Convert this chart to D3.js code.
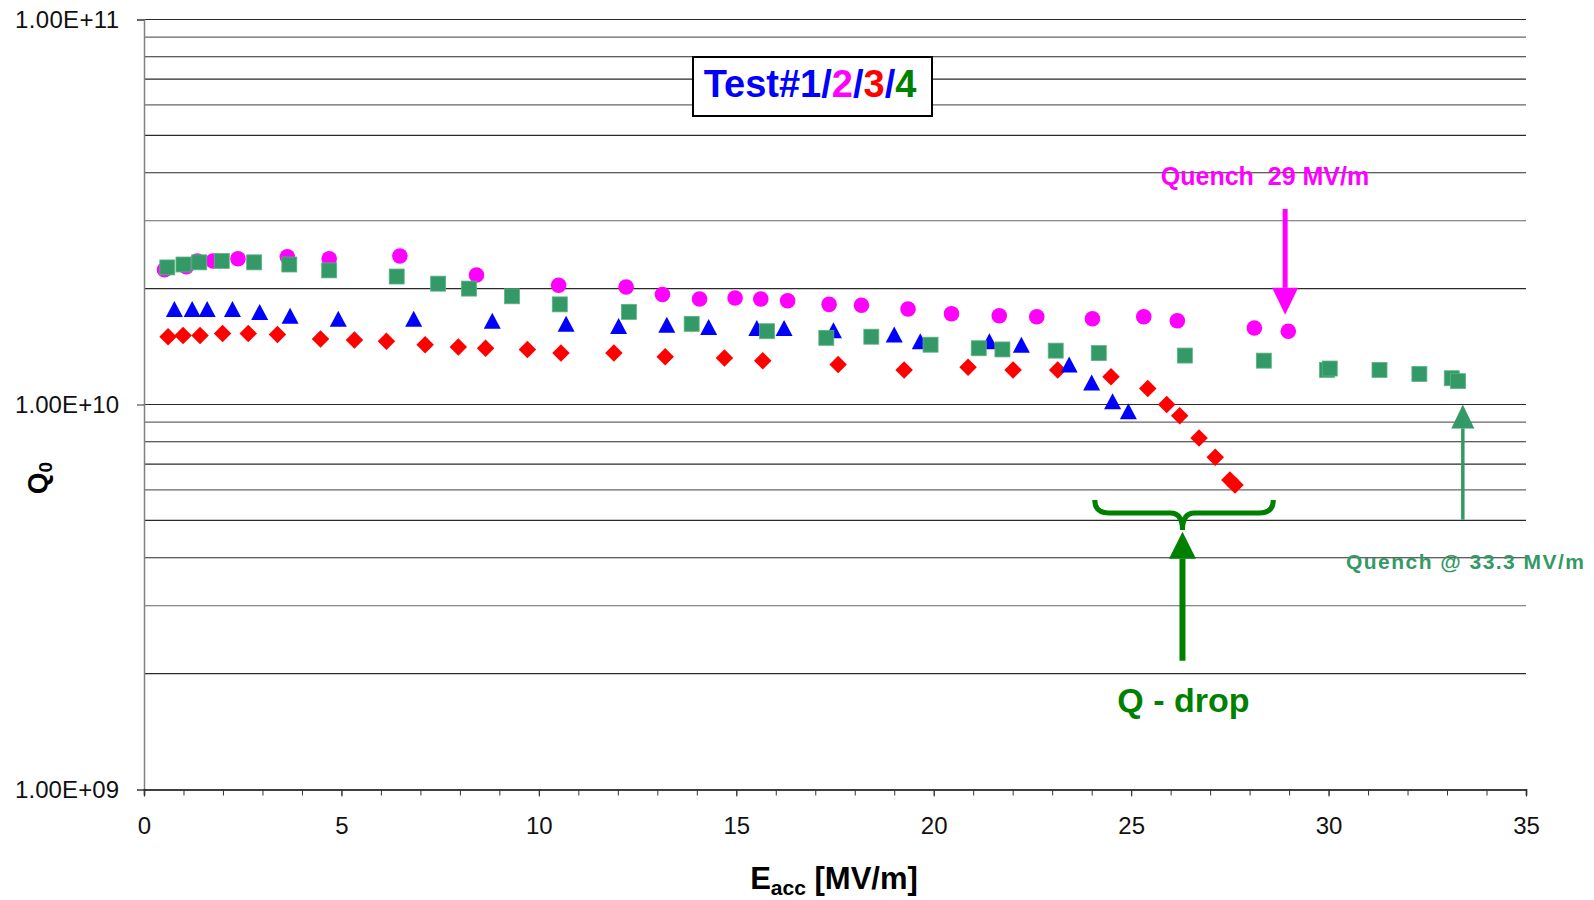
<!DOCTYPE html>
<html>
<head>
<meta charset="utf-8">
<script src="https://cdn.jsdelivr.net/npm/d3@7"></script>
<style>
  body { margin: 0; background: #fff; }
  svg { font-family: 'Liberation Sans', Arial, sans-serif; }
</style>
</head>
<body>
<svg width="1594" height="900"></svg>
<script>
// [Eacc MV/m, Q0]
const test1 = [[0.77,1.77e10],[1.22,1.77e10],[1.60,1.77e10],[2.24,1.77e10],[2.93,1.74e10],[3.70,1.70e10],
  [4.92,1.67e10],[6.83,1.67e10],[8.82,1.65e10],[10.69,1.62e10],[12.02,1.60e10],[13.24,1.61e10],[14.30,1.59e10],
  [15.52,1.58e10],[16.21,1.58e10],[17.46,1.56e10],[19.00,1.52e10],[19.66,1.46e10],[21.41,1.46e10],[22.22,1.43e10],
  [23.43,1.27e10],[24.00,1.14e10],[24.53,1.02e10],[24.93,9.6e9]];
const test2 = [[0.52,2.24e10],[1.07,2.28e10],[1.35,2.36e10],[1.75,2.36e10],[2.38,2.39e10],[3.63,2.42e10],
  [4.69,2.39e10],[6.48,2.43e10],[8.42,2.17e10],[10.50,2.04e10],[12.21,2.02e10],[13.13,1.93e10],[14.07,1.88e10],
  [14.97,1.89e10],[15.62,1.88e10],[16.30,1.86e10],[17.35,1.82e10],[18.17,1.81e10],[19.35,1.77e10],[20.45,1.72e10],
  [21.66,1.70e10],[22.61,1.69e10],[24.02,1.67e10],[25.32,1.69e10],[26.17,1.65e10],[28.12,1.58e10],[28.98,1.55e10]];
const test3 = [[0.61,1.50e10],[0.99,1.51e10],[1.42,1.51e10],[1.99,1.53e10],[2.64,1.53e10],[3.38,1.52e10],
  [4.47,1.48e10],[5.33,1.47e10],[6.14,1.46e10],[7.12,1.43e10],[7.96,1.41e10],[8.65,1.40e10],[9.71,1.39e10],
  [10.56,1.36e10],[11.90,1.36e10],[13.20,1.33e10],[14.70,1.32e10],[15.67,1.30e10],[17.58,1.27e10],[19.25,1.23e10],
  [20.87,1.25e10],[22.01,1.23e10],[23.14,1.23e10],[24.49,1.18e10],[25.42,1.10e10],[25.90,1.00e10],[26.23,9.35e9],
  [26.72,8.19e9],[27.13,7.29e9],[27.50,6.37e9],[27.63,6.18e9]];
const test4 = [[0.59,2.27e10],[1.00,2.31e10],[1.40,2.34e10],[1.97,2.36e10],[2.79,2.34e10],[3.68,2.31e10],
  [4.69,2.23e10],[6.40,2.15e10],[7.45,2.06e10],[8.23,2.00e10],[9.32,1.91e10],[10.53,1.82e10],[12.28,1.74e10],
  [13.87,1.62e10],[15.78,1.55e10],[17.28,1.49e10],[18.42,1.50e10],[19.92,1.43e10],[21.14,1.40e10],[21.74,1.39e10],
  [23.09,1.38e10],[24.18,1.36e10],[26.36,1.34e10],[28.36,1.30e10],[29.96,1.23e10],[30.03,1.24e10],[31.29,1.23e10],
  [32.30,1.20e10],[33.12,1.17e10],[33.28,1.15e10]];

const xMajorTicks = [0, 5, 10, 15, 20, 25, 30, 35];
const yTicks = [1e9, 1e10, 1e11];
const yTickLabels = ['1.00E+09', '1.00E+10', '1.00E+11'];

const svg = d3.select('svg');

const x = d3.scaleLinear().domain([0, 35]).range([144, 1526]);
const y = d3.scaleLog().domain([1e9, 1e11]).range([789.5, 19.5]);

// gridlines at every 1..9 x decade
svg.append('g').
  attr('class', 'grid').
  selectAll('line').
  data(y.ticks().filter(d => d > 1e9)).
  enter().append('line').
  attr('x1', x(0)).
  attr('x2', x(35)).
  attr('y1', d => y(d)).
  attr('y2', d => y(d)).
  attr('stroke', (d, i) => i % 3 === 1 ? '#666' : '#2a2a2a').
  attr('stroke-width', 1.1);

// y axis
const yAxis = d3.axisLeft(y).
  tickValues(yTicks).
  tickSize(7).
  tickPadding(18).
  tickFormat((d, i) => yTickLabels[i]);
const gy = svg.append('g').
  attr('transform', `translate(${x(0)},0)`).
  call(yAxis);
gy.select('.domain').attr('stroke', '#808080').attr('stroke-width', 1.5);
gy.selectAll('.tick line').attr('stroke', '#333');
gy.selectAll('text').
  attr('font-size', 24).
  attr('fill', '#111').
  attr('textLength', 104).
  attr('font-family', "'Liberation Sans', Arial, sans-serif");

// x axis: minor ticks every 1, labelled major every 5
const xMinor = d3.axisBottom(x).
  tickValues(d3.range(0, 36)).
  tickSize(6).
  tickFormat('');
svg.append('g').
  attr('transform', `translate(0,${y(1e9)})`).
  call(xMinor).
  call(g => g.select('.domain').attr('stroke', '#000').attr('stroke-width', 1.6)).
  selectAll('.tick line').attr('stroke', '#333');

const xAxis = d3.axisBottom(x).
  tickValues(xMajorTicks).
  tickSize(7).
  tickPadding(20).
  tickFormat(d3.format('d'));
const gx = svg.append('g').
  attr('transform', `translate(0,${y(1e9)})`).
  call(xAxis);
gx.select('.domain').remove();
gx.selectAll('.tick line').attr('stroke', '#333');
gx.selectAll('text').
  attr('font-size', 24).
  attr('fill', '#111').
  attr('font-family', "'Liberation Sans', Arial, sans-serif");

// axis titles
svg.append('text').
  attr('x', 834).
  attr('y', 889).
  attr('text-anchor', 'middle').
  attr('font-size', 31).
  attr('font-weight', 'bold').
  call(t => {
    t.append('tspan').text('E');
    t.append('tspan').text('acc').attr('font-size', 21).attr('dy', 6);
    t.append('tspan').text(' [MV/m]').attr('dy', -6);
  });

svg.append('text').
  attr('transform', 'translate(47,478) rotate(-90)').
  attr('text-anchor', 'middle').
  attr('font-size', 28).
  attr('font-weight', 'bold').
  call(t => {
    t.append('tspan').text('Q');
    t.append('tspan').text('0').attr('font-size', 19).attr('dy', 5);
  });

// markers
const tri = (w, h) => `M0,${-h / 2}L${w / 2},${h / 2}L${-w / 2},${h / 2}Z`;
const dia = s => `M0,${-s / 2}L${s / 2},0L0,${s / 2}L${-s / 2},0Z`;

svg.append('g').
  selectAll('circle').
  data(test2).
  enter().append('circle').
  attr('cx', d => x(d[0])).
  attr('cy', d => y(d[1])).
  attr('r', 7.8).
  attr('fill', '#FF00FF');

svg.append('g').
  selectAll('path').
  data(test3).
  enter().append('path').
  attr('transform', d => `translate(${x(d[0])},${y(d[1])})`).
  attr('d', dia(17.5)).
  attr('fill', '#FF0000');

svg.append('g').
  selectAll('path').
  data(test1).
  enter().append('path').
  attr('transform', d => `translate(${x(d[0])},${y(d[1])})`).
  attr('d', tri(17, 16)).
  attr('fill', '#0000FF');

svg.append('g').
  selectAll('rect').
  data(test4).
  enter().append('rect').
  attr('x', d => x(d[0]) - 7.5).
  attr('y', d => y(d[1]) - 7.5).
  attr('width', 15).
  attr('height', 15).
  attr('fill', '#339966').
  attr('stroke', '#5cb485').
  attr('stroke-width', 0.8);

// arrows
function arrow(x0, yTail, yTip, color, lw, headW, headL) {
  const dir = yTip > yTail ? 1 : -1;
  const yBase = yTip - dir * headL;
  svg.append('line').
    attr('x1', x0).attr('x2', x0).
    attr('y1', yTail).attr('y2', yBase).
    attr('stroke', color).
    attr('stroke-width', lw);
  svg.append('path').
    attr('d', `M${x0},${yTip}L${x0 + headW / 2},${yBase}L${x0 - headW / 2},${yBase}Z`).
    attr('fill', color);
}

// quench 29 MV/m
arrow(x(28.9), y(3.22e10), y(1.71e10), '#FF00FF', 5, 26, 27);
svg.append('text').
  attr('x', 1265).
  attr('y', 185).
  attr('text-anchor', 'middle').
  attr('font-size', 25).
  attr('font-weight', 'bold').
  attr('fill', '#FF00FF').
  attr('xml:space', 'preserve').
  text('Quench  29 MV/m');

// quench 33.3 MV/m
arrow(x(33.4), y(5.02e9), y(1.0e10), '#339966', 3.5, 23, 24);
svg.append('text').
  attr('x', 1465).
  attr('y', 569).
  attr('text-anchor', 'middle').
  attr('font-size', 21).
  attr('font-weight', 'bold').
  attr('fill', '#339966').
  attr('textLength', 238).
  text('Quench @ 33.3 MV/m');

// Q-drop brace
const bx0 = x(24.08), bx1 = x(28.6), bxm = x(26.3);
const byTop = y(5.65e9), byMid = y(5.23e9), byTip = y(4.72e9);
const brace = d3.path();
brace.moveTo(bx0, byTop);
brace.quadraticCurveTo(bx0, byMid, bx0 + 14, byMid);
brace.lineTo(bxm - 12, byMid);
brace.quadraticCurveTo(bxm, byMid, bxm, byTip);
brace.quadraticCurveTo(bxm, byMid, bxm + 12, byMid);
brace.lineTo(bx1 - 14, byMid);
brace.quadraticCurveTo(bx1, byMid, bx1, byTop);
svg.append('path').
  attr('d', brace.toString()).
  attr('fill', 'none').
  attr('stroke', '#008000').
  attr('stroke-width', 5);

arrow(bxm, y(2.16e9), y(4.67e9), '#008000', 6, 27, 27);
svg.append('text').
  attr('x', bxm + 1).
  attr('y', 712).
  attr('text-anchor', 'middle').
  attr('font-size', 34).
  attr('font-weight', 'bold').
  attr('fill', '#008000').
  text('Q - drop');

// legend box
svg.append('rect').
  attr('x', 693).
  attr('y', 57).
  attr('width', 239).
  attr('height', 59).
  attr('fill', '#fff').
  attr('stroke', '#000').
  attr('stroke-width', 2);
svg.append('text').
  attr('x', 810).
  attr('y', 97).
  attr('text-anchor', 'middle').
  attr('font-size', 38).
  attr('font-weight', 'bold').
  call(t => {
    t.append('tspan').text('Test#1/').attr('fill', '#0000FF');
    t.append('tspan').text('2').attr('fill', '#FF00FF');
    t.append('tspan').text('/').attr('fill', '#0000FF');
    t.append('tspan').text('3').attr('fill', '#FF0000');
    t.append('tspan').text('/').attr('fill', '#0000FF');
    t.append('tspan').text('4').attr('fill', '#008000');
  });
</script>
</body>
</html>
